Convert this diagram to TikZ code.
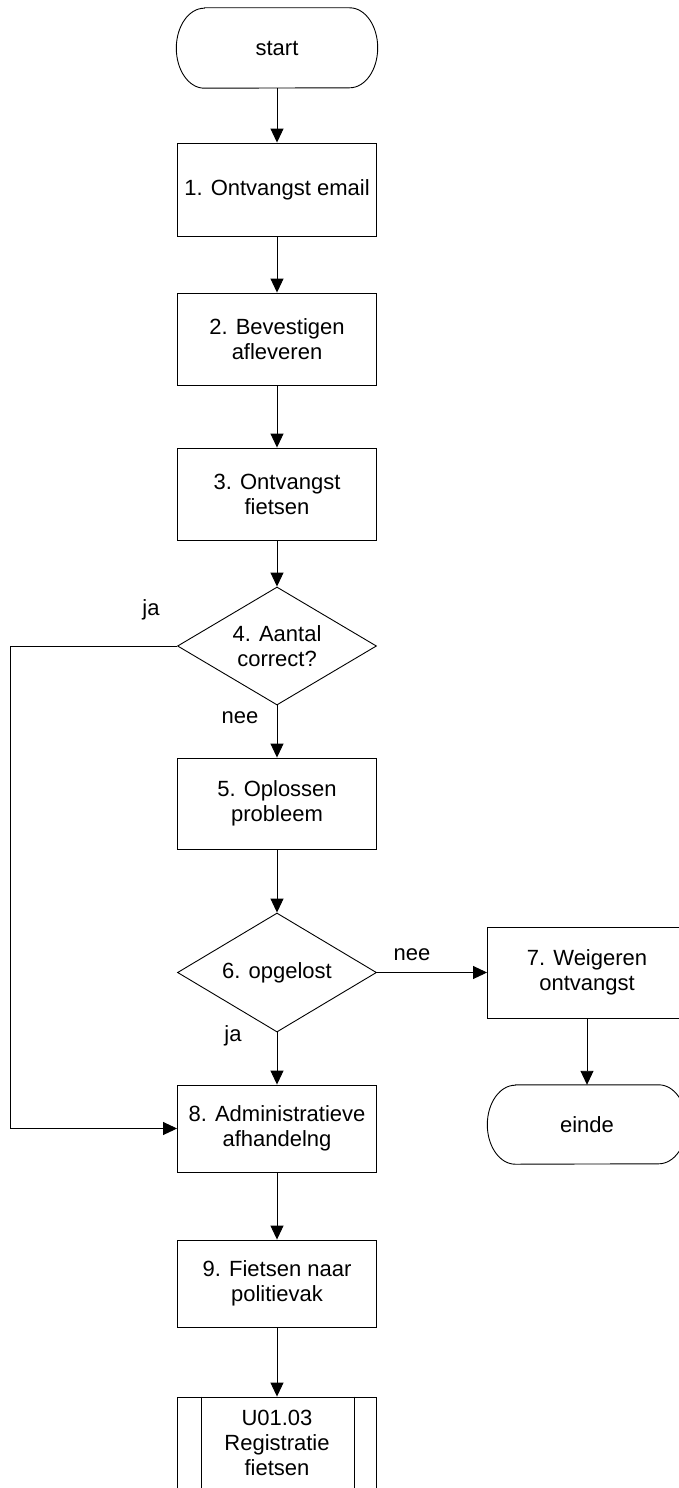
\documentclass[tikz,border=0pt]{standalone}
\usepackage{fontspec}
\setmainfont{Liberation Sans}
\usetikzlibrary{arrows.meta,shapes.geometric}

\tikzset{
  base/.style={font=\fontsize{22}{25}\selectfont, align=center, inner sep=0pt},
  procbox/.style={base, draw, line width=0.9pt, rectangle, minimum width=199pt},
  decision/.style={base, draw, line width=0.9pt, diamond, aspect=1.69, minimum width=199pt, minimum height=118pt},
  termnode/.style={base, minimum width=201pt, minimum height=80pt},
  termline/.style={line width=0.9pt},
  lbl/.style={font=\fontsize{22}{25}\selectfont, inner sep=0pt},
  arr/.style={line width=0.9pt, -{Triangle[length=14pt,width=13pt]}},
}

\begin{document}
\begin{tikzpicture}[x=1pt, y=-1pt]
  \useasboundingbox (0,0) rectangle (678,1488);

  % start terminator
  \node[termnode] (start) at (277,48) {start};
  \draw[termline] ([xshift=28pt]start.north west) -- ([xshift=-28pt]start.north east)
    arc[start angle=90, end angle=-90, x radius=28pt, y radius=40pt]
    -- ([xshift=28pt]start.south west)
    arc[start angle=270, end angle=90, x radius=28pt, y radius=40pt] -- cycle;

  % main column
  \node[procbox, minimum height=93pt] (b1) at (277,189.5) {1. Ontvangst email};
  \node[procbox, minimum height=92pt] (b2) at (277,339) {2. Bevestigen\\afleveren};
  \node[procbox, minimum height=92pt] (b3) at (277,494) {3. Ontvangst\\fietsen};
  \node[decision] (d4) at (277,646) {4. Aantal\\correct?};
  \node[procbox, minimum height=91pt] (b5) at (277,803.5) {5. Oplossen\\probleem};
  \node[decision, minimum height=119pt] (d6) at (277,972.5) {6. opgelost};
  \node[procbox, minimum height=87pt] (b8) at (277,1128.5) {8. Administratieve\\afhandelng};
  \node[procbox, minimum height=87pt] (b9) at (277,1283.5) {9. Fietsen naar\\politievak};

  % predefined process
  \node[procbox, minimum height=92pt] (u) at (277,1443) {U01.03\\Registratie\\fietsen};
  \draw[line width=0.9pt] ([xshift=24pt]u.north west) -- ([xshift=24pt]u.south west);
  \draw[line width=0.9pt] ([xshift=-23pt]u.north east) -- ([xshift=-23pt]u.south east);

  % right branch
  \node[procbox, minimum height=91pt] (b7) at (587,972.5) {7. Weigeren\\ontvangst};
  \node[termnode, minimum width=199pt, minimum height=79pt] (einde) at (587,1124.5) {einde};
  \draw[termline] ([xshift=28pt]einde.north west) -- ([xshift=-28pt]einde.north east)
    arc[start angle=90, end angle=-90, x radius=28pt, y radius=39.5pt]
    -- ([xshift=28pt]einde.south west)
    arc[start angle=270, end angle=90, x radius=28pt, y radius=39.5pt] -- cycle;

  % connectors
  \draw[arr] (start) -- (b1);
  \draw[arr] (b1) -- (b2);
  \draw[arr] (b2) -- (b3);
  \draw[arr] (b3) -- (d4);
  \draw[arr] (d4) -- (b5);
  \draw[arr] (b5) -- (d6);
  \draw[arr] (d6) -- (b8);
  \draw[arr] (d6) -- (b7);
  \draw[arr] (b7) -- (einde);
  \draw[arr] (b8) -- (b9);
  \draw[arr] (b9) -- (u);
  \coordinate (loop) at (10,646);
  \draw[arr] (d4.west) -- (loop) |- (b8.west);

  % branch labels
  \node[lbl] (ja1) at (151,610) {ja};
  \node[lbl] (nee1) at (240,718) {nee};
  \node[lbl] (nee2) at (412,955) {nee};
  \node[lbl] (ja2) at (233,1036) {ja};
\end{tikzpicture}
\end{document}
